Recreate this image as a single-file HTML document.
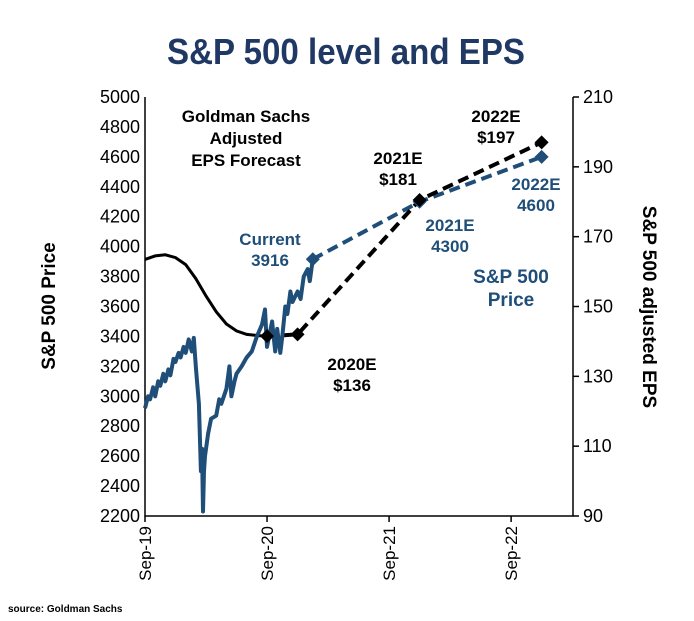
<!DOCTYPE html>
<html><head><meta charset="utf-8"><style>
body{margin:0;background:#fff;}
svg{display:block;font-family:"Liberation Sans",Arial,sans-serif;}
</style></head><body>
<svg id="c" width="694" height="621" viewBox="0 0 694 621">
<text x="346" y="64" text-anchor="middle" font-size="36" font-weight="bold" fill="#1f3864" textLength="358" lengthAdjust="spacingAndGlyphs">S&amp;P 500 level and EPS</text>
<text transform="translate(55,306) rotate(-90)" text-anchor="middle" font-size="19" font-weight="bold">S&amp;P 500 Price</text>
<text transform="translate(643,307) rotate(90)" text-anchor="middle" font-size="19" font-weight="bold">S&amp;P 500 adjusted EPS</text>
<text x="8" y="612" font-size="10" font-weight="bold">source: Goldman Sachs</text>
<g id="axes"></g>
<g id="marks"></g>
<g font-weight="bold" font-size="17" text-anchor="middle">
<text x="246" y="122"><tspan x="246">Goldman Sachs</tspan><tspan x="246" dy="22">Adjusted</tspan><tspan x="246" dy="22">EPS Forecast</tspan></text>
<text x="398" y="164"><tspan x="398">2021E</tspan><tspan x="398" dy="21">$181</tspan></text>
<text x="496" y="122"><tspan x="496">2022E</tspan><tspan x="496" dy="21">$197</tspan></text>
<text x="352" y="370"><tspan x="352">2020E</tspan><tspan x="352" dy="21">$136</tspan></text>
<g fill="#1f4e79">
<text x="270" y="245"><tspan x="270">Current</tspan><tspan x="270" dy="21">3916</tspan></text>
<text x="450" y="231"><tspan x="450">2021E</tspan><tspan x="450" dy="21">4300</tspan></text>
<text x="536" y="190"><tspan x="536">2022E</tspan><tspan x="536" dy="21">4600</tspan></text>
<text x="511" y="283" font-size="19"><tspan x="511">S&amp;P 500</tspan><tspan x="511" dy="23">Price</tspan></text>
</g></g>
</svg>
<script>
const leftTicks=[2200,2400,2600,2800,3000,3200,3400,3600,3800,4000,4200,4400,4600,4800,5000];
const rightTicks=[90,110,130,150,170,190,210];
const xTickLabels=["Sep-19","Sep-20","Sep-21","Sep-22"];
const xTickMonths=[0,12,24,36];
const priceMonths=[0,0.3,0.5,0.8,1,1.3,1.5,1.8,2,2.3,2.5,2.8,3,3.3,3.5,3.8,4,4.3,4.6,4.8,5.0,5.3,5.5,5.6,5.7,5.8,5.9,6.2,6.5,7,7.3,7.5,8,8.3,8.5,8.8,9,9.5,10,10.5,11,11.5,11.8,12,12.2,12.5,12.8,13,13.3,13.5,13.8,14,14.3,14.5,15,15.3,15.6,16,16.2,16.5];
const priceValues=[2920,3000,2980,3060,3000,3100,3070,3150,3100,3180,3140,3250,3230,3290,3260,3330,3290,3380,3300,3390,3200,2950,2500,2650,2230,2500,2600,2750,2850,2870,2980,2950,3050,3200,3000,3100,3150,3200,3260,3300,3400,3480,3580,3330,3400,3500,3300,3450,3290,3400,3600,3550,3700,3630,3700,3650,3800,3850,3770,3916];
const priceFcMonths=[16.5,27,39];
const priceFcValues=[3916,4300,4600];
const epsMonths=[0,1,2,3,4,5,6,7,8,9,10,11,12];
const epsValues=[163.5,164.5,164.8,164,162,158,153,148.5,145,143,142,141.7,141.5];
const epsFcMonths=[12,15,27,39];
const epsFcValues=[141.5,142,180.5,197];

const X0=145,X1=573,Y0=97,Y1=516;
const xs=m=>X0+m*10.17;
const yL=v=>Y1-(v-2200)/2800*(Y1-Y0);
const yR=v=>Y1-(v-90)/120*(Y1-Y0);
const NS="http://www.w3.org/2000/svg";
function mk(tag,attrs,parent){const e=document.createElementNS(NS,tag);for(const k in attrs)e.setAttribute(k,attrs[k]);parent.appendChild(e);return e;}
const ax=document.getElementById('axes'),mg=document.getElementById('marks');
let e;
e=mk('path',{d:`M${X0},${Y0}V${Y1}H${X1}V${Y0}`,fill:'none',stroke:'#000','stroke-width':1.5},ax);


leftTicks.forEach(v=>{const t=mk('text',{x:X0-5,y:yL(v)+6,'text-anchor':'end','font-size':18},ax);t.textContent=v;

});
rightTicks.forEach(v=>{const l=mk('line',{x1:X1,x2:X1+6,y1:yR(v),y2:yR(v),stroke:'#000','stroke-width':1.5},ax);


const t=mk('text',{x:X1+10,y:yR(v)+6,'font-size':18},ax);t.textContent=v;

});
xTickMonths.forEach((m,i)=>{const x=xs(m);const l=mk('line',{x1:x,x2:x,y1:Y1,y2:Y1+6,stroke:'#000','stroke-width':1.5},ax);


const t=mk('text',{transform:`translate(${x+6},${Y1+10}) rotate(-90)`,'text-anchor':'end','font-size':17},ax);t.textContent=xTickLabels[i];

});
const pts=(ms,vs,f)=>ms.map((m,i)=>xs(m).toFixed(1)+','+f(vs[i]).toFixed(1)).join(' ');
e=mk('polyline',{points:pts(epsMonths,epsValues,yR),fill:'none',stroke:'#000','stroke-width':3},mg);


e=mk('polyline',{points:pts(priceFcMonths,priceFcValues,yL),fill:'none',stroke:'#1f4e79','stroke-width':4,'stroke-dasharray':'11,6'},mg);


e=mk('polyline',{points:pts(epsFcMonths,epsFcValues,yR),fill:'none',stroke:'#000','stroke-width':4,'stroke-dasharray':'11,6'},mg);


e=mk('polyline',{points:pts(priceMonths,priceValues,yL),fill:'none',stroke:'#1f4e79','stroke-width':4,'stroke-linejoin':'round'},mg);


priceFcMonths.forEach((m,i)=>{const x=xs(m),y=yL(priceFcValues[i]);const d=mk('path',{d:`M${x},${y-7}L${x+7},${y}L${x},${y+7}L${x-7},${y}Z`,fill:'#1f4e79'},mg);

});
epsFcMonths.forEach((m,i)=>{const x=xs(m),y=yR(epsFcValues[i]);const d=mk('path',{d:`M${x},${y-7}L${x+7},${y}L${x},${y+7}L${x-7},${y}Z`,fill:'#000'},mg);

});
</script>
</body></html>
